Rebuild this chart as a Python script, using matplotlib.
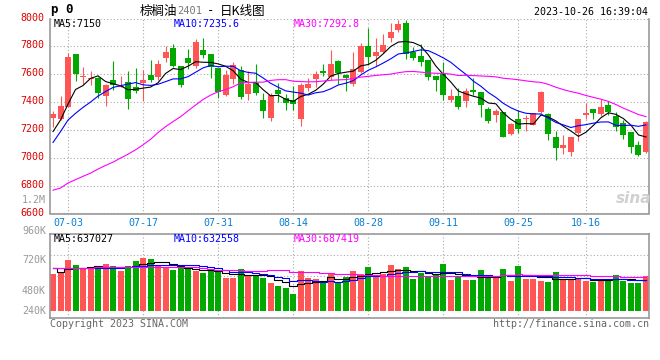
import numpy as np
import pandas as pd
import matplotlib
matplotlib.use('Agg')
import matplotlib.pyplot as plt
from matplotlib.transforms import ScaledTranslation

# daily K-line, 80 sessions, 06-29 .. 10-26
opens = [7288, 7281, 7367, 7743, 7580, 7566, 7576, 7443, 7562, 7510,
         7543, 7505, 7538, 7593, 7581, 7714, 7791, 7657, 7719, 7657,
         7771, 7743, 7648, 7448, 7567, 7633, 7457, 7538, 7414, 7286,
         7486, 7429, 7414, 7281, 7500, 7567, 7624, 7581, 7695, 7595,
         7533, 7614, 7800, 7729, 7757, 7862, 7914, 7971, 7762, 7729,
         7700, 7586, 7600, 7414, 7443, 7410, 7486, 7471, 7352, 7310,
         7329, 7171, 7281, 7276, 7238, 7329, 7314, 7152, 7071, 7043,
         7176, 7310, 7352, 7314, 7381, 7300, 7248, 7186, 7090, 7038]
highs = [7338, 7443, 7752, 7743, 7652, 7624, 7581, 7533, 7695, 7586,
         7624, 7648, 7629, 7700, 7700, 7805, 7814, 7657, 7781, 7852,
         7862, 7743, 7648, 7629, 7686, 7660, 7624, 7671, 7467, 7462,
         7538, 7457, 7514, 7538, 7576, 7624, 7676, 7771, 7705, 7605,
         7757, 7824, 7929, 7857, 7886, 7971, 7990, 7986, 7795, 7819,
         7700, 7586, 7686, 7495, 7500, 7500, 7576, 7471, 7367, 7352,
         7329, 7248, 7343, 7305, 7324, 7481, 7319, 7190, 7167, 7152,
         7281, 7395, 7352, 7424, 7410, 7329, 7271, 7186, 7119, 7262]
lows = [7224, 7271, 7362, 7552, 7529, 7524, 7426, 7371, 7486, 7505,
        7352, 7462, 7410, 7543, 7562, 7686, 7652, 7510, 7641, 7648,
        7719, 7576, 7429, 7443, 7533, 7420, 7414, 7448, 7286, 7267,
        7400, 7343, 7343, 7229, 7481, 7510, 7590, 7562, 7533, 7476,
        7514, 7610, 7664, 7662, 7752, 7829, 7900, 7710, 7700, 7662,
        7562, 7481, 7414, 7400, 7352, 7362, 7448, 7295, 7252, 7257,
        7150, 7167, 7176, 7190, 7233, 7319, 7129, 6986, 7029, 7010,
        7119, 7276, 7281, 7300, 7310, 7190, 7138, 7033, 7010, 7033]
closes = [7314, 7371, 7724, 7600, 7585, 7570, 7462, 7521, 7519, 7514,
          7424, 7481, 7562, 7557, 7671, 7757, 7657, 7524, 7681, 7829,
          7738, 7652, 7471, 7595, 7667, 7438, 7533, 7467, 7338, 7448,
          7457, 7390, 7386, 7519, 7529, 7600, 7610, 7676, 7610, 7576,
          7638, 7800, 7724, 7762, 7810, 7900, 7957, 7748, 7719, 7690,
          7581, 7557, 7448, 7443, 7367, 7481, 7471, 7381, 7267, 7338,
          7152, 7243, 7210, 7286, 7324, 7471, 7171, 7071, 7095, 7152,
          7281, 7319, 7319, 7367, 7329, 7224, 7167, 7081, 7019, 7257]
volumes_k = [710, 731, 883, 820, 773, 773, 786, 833, 807, 744,
             807, 871, 909, 896, 807, 795, 756, 782, 782, 748,
             718, 744, 731, 655, 655, 769, 680, 680, 655, 591,
             553, 528, 452, 744, 655, 642, 604, 706, 604, 668,
             744, 706, 795, 693, 706, 820, 769, 795, 642, 718,
             680, 706, 833, 630, 680, 630, 630, 756, 655, 655,
             769, 617, 807, 642, 642, 617, 604, 731, 642, 642,
             642, 617, 604, 642, 642, 693, 617, 591, 591, 680]

# moving averages at the start need sessions before the window
ma5_head = [7188, 7271, 7386, 7490]
ma10_head = [7110, 7188, 7271, 7319, 7362, 7400, 7443, 7476, 7505]
ma30_head = [6767, 6783, 6819, 6843, 6867, 6890, 6919, 6945, 6969, 6998,
             7026, 7057, 7093, 7133, 7181, 7224, 7260, 7295, 7338, 7379,
             7419, 7450, 7474, 7490, 7510, 7538, 7540, 7543, 7543]
vma5_head = [778, 735, 766, 786]
vma10_head = [786, 786, 784, 784, 782, 782, 782, 784, 786]
vma30_head = [778, 778, 778, 778, 778, 782, 791, 791, 791, 791,
              791, 791, 791, 791, 791, 791, 791, 791, 791, 791,
              778, 765, 757, 757, 757, 753, 748, 748, 748]

date_ticks = [2, 12, 22, 32, 42, 52, 62, 71]
date_labels = ['07-03', '07-17', '07-31', '08-14', '08-28', '09-11', '09-25', '10-16']
price_ticks = [6600, 6800, 7000, 7200, 7400, 7600, 7800, 8000]
vol_labels = ['960K', '720K', '480K', '240K']


def moving(values, n, head):
    s = pd.Series(values, dtype=float).rolling(n).mean()
    s.iloc[:len(head)] = head
    return s.values


RED = '#ff5555'
GREEN = '#00a800'
GRID = '#aaaaaa'
EDGE = '#999999'
MONO = 'DejaVu Sans Mono'
CJK = ['Noto Sans CJK SC', 'DejaVu Sans']
W, H = 660, 360

plt.rcParams['font.family'] = [MONO, 'Noto Sans CJK SC']

o = np.array(opens, float)
c = np.array(closes, float)
x = np.arange(len(c))
cols = np.where(c >= o, RED, GREEN)
vol = np.array(volumes_k, float) * 1000

fig = plt.figure(figsize=(W / 100, H / 100), dpi=100)
ax1 = fig.add_axes([50 / W, 1 - 213.5 / H, 599 / W, 195 / H])
ax2 = fig.add_axes([50 / W, 1 - 318.3 / H, 599 / W, 84 / H])


def put(px, py, s, **kw):
    kw.setdefault('fontsize', 7.2)
    kw.setdefault('va', 'center')
    fig.text(px / W, 1 - py / H, s, **kw)


# price panel
ax1.vlines(x, lows, highs, colors=cols, lw=0.8, zorder=2)
ax1.bar(x, np.maximum(np.abs(c - o), 8), bottom=np.minimum(o, c), width=0.8,
        color=cols, zorder=2)
ax1.plot(x, moving(closes, 5, ma5_head), color='black', lw=0.8, zorder=3)
ax1.plot(x, moving(closes, 10, ma10_head), color='#0000ff', lw=0.8, zorder=3)
ax1.plot(x, moving(closes, 30, ma30_head), color='#ff00ff', lw=0.8, zorder=3)
ax1.set_xlim(-0.4, 79.4)
ax1.set_ylim(6600, 8000)
ax1.set_yticks(price_ticks)
ax1.set_xticks(date_ticks, date_labels)
ax1.tick_params(axis='y', length=0, pad=4, labelsize=7.2, labelcolor='#dd0000')
ax1.tick_params(axis='x', length=0, pad=3, labelsize=7.2, labelcolor='#0a7fd0')
# price labels sit a little above their grid lines
lift = ScaledTranslation(0, 2 / 100, fig.dpi_scale_trans)
for lab in ax1.get_yticklabels():
    lab.set_transform(lab.get_transform() + lift)
ax1.grid(True, color=GRID, ls=(0, (1, 2)), lw=0.8)
ax1.set_axisbelow(True)
ax1.spines['top'].set_visible(False)
for s in ('left', 'right', 'bottom'):
    ax1.spines[s].set_color(EDGE)
    ax1.spines[s].set_linewidth(1.2)

# volume panel
VOL_BASE = 240000
ax2.bar(x, vol - VOL_BASE, bottom=VOL_BASE, width=0.8, color=cols, zorder=2)
ax2.plot(x, moving(vol, 5, np.array(vma5_head) * 1000), color='black', lw=0.8,
         drawstyle='steps-mid', zorder=3)
ax2.plot(x, moving(vol, 10, np.array(vma10_head) * 1000), color='#0000ff', lw=0.8,
         drawstyle='steps-mid', zorder=3)
ax2.plot(x, moving(vol, 30, np.array(vma30_head) * 1000), color='#ff00ff', lw=0.8,
         drawstyle='steps-mid', zorder=3)
ax2.set_xlim(-0.4, 79.4)
lo, hi = 143500, 1210000
ax2.set_ylim(lo, hi)
ax2.set_xticks(date_ticks)
ax2.set_yticks([lo + f * (hi - lo) for f in (0.25, 0.5, 0.75)])
ax2.tick_params(length=0, labelbottom=False, labelleft=False)
ax2.grid(True, color=GRID, ls=(0, (1, 2)), lw=0.8)
ax2.set_axisbelow(True)
for s in ax2.spines.values():
    s.set_color(EDGE)
    s.set_linewidth(1.2)

for lab, py in zip(vol_labels, [230.7, 260, 290.7, 310.7]):
    put(46, py, lab, ha='right', color='#999999')

# header and captions
put(51, 10, 'p 0', weight='bold', fontsize=9)
put(140, 11, '棕榈油', fontsize=9, family=CJK)
put(177, 11.5, '2401', fontsize=7.5, color='#777777')
put(207, 11, '-', fontsize=9)
put(220, 11, '日K线图', fontsize=9, family=CJK)
put(648, 12, '2023-10-26 16:39:04', ha='right')
put(54, 24, 'MA5:7150')
put(174, 24, 'MA10:7235.6', color='#0000ff')
put(294, 24, 'MA30:7292.8', color='#ff00ff')
put(54, 238.5, 'MA5:637027')
put(174, 238.5, 'MA10:632558', color='#0000ff')
put(294, 238.5, 'MA30:687419', color='#ff00ff')
put(46, 200, '1.2M', ha='right', color='#999999')
put(50, 324, 'Copyright 2023 SINA.COM', color='#666666')
put(649, 324, 'http://finance.sina.com.cn', ha='right', color='#666666')
put(634, 198, 'sina', ha='center', fontsize=11, style='italic', weight='bold',
    color='#d0d0d0', family='DejaVu Sans')

fig.savefig('out.png', dpi=100)
